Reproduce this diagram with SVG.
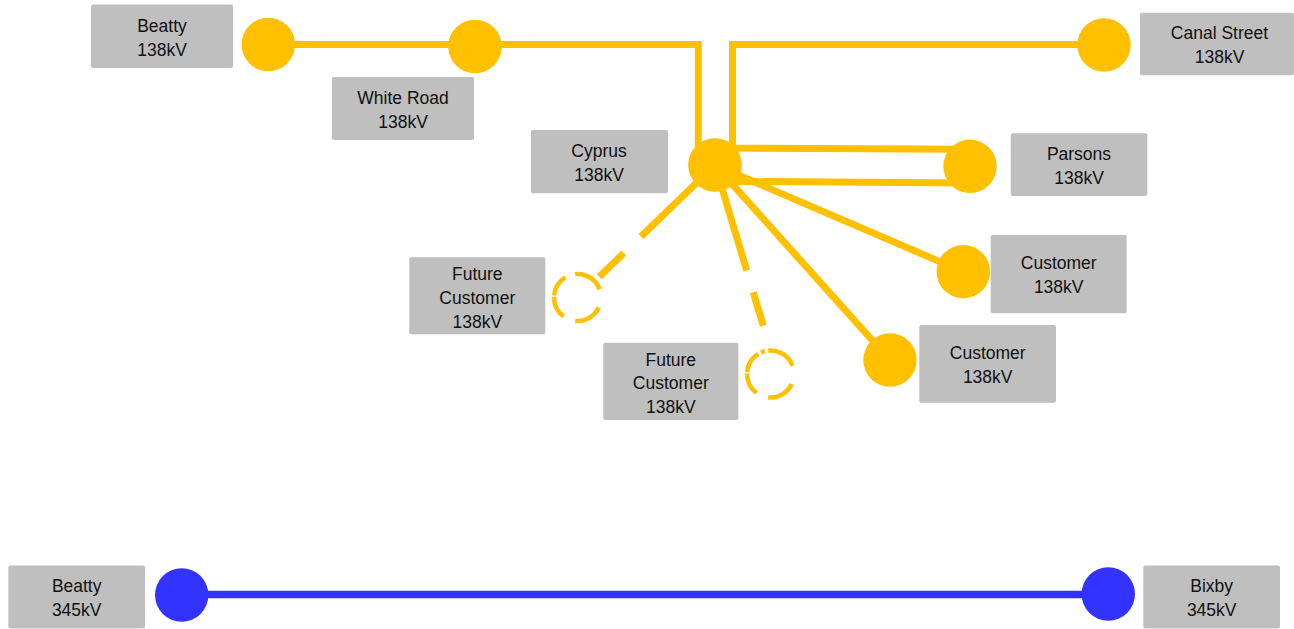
<svg xmlns="http://www.w3.org/2000/svg" width="1294" height="629" viewBox="0 0 1294 629">
<style>
.box{fill:#BFBFBF;}
.lbl{font-family:"Liberation Sans",Arial,sans-serif;font-size:17.5px;fill:#111;text-anchor:middle;}
.y{stroke:#FFC000;stroke-width:7;fill:none;stroke-linecap:butt;}
.b{stroke:#3333FF;stroke-width:7.5;fill:none;}
.yn{fill:#FFC000;}
.bn{fill:#3333FF;}
.fut{fill:none;stroke:#FFC000;stroke-width:4.5;}
</style>
<rect width="1294" height="629" fill="#FFFFFF"/>
<g id="connectors">
<path class="y" d="M268,44.5 H475"/>
<path class="y" d="M475,44.5 H698.3 V165"/>
<path class="y" d="M1104,44.5 H732.5 V148 L970,149.3"/>
<path class="y" d="M715,181.3 L970,183"/>
<path class="y" d="M715,165 L963.3,271.7"/>
<path class="y" d="M715,165 L890,360"/>
<path class="y" d="M599.3,276.7 L715,165" stroke-dasharray="34 24 300"/>
<path class="y" d="M763.3,325.7 L715,165" stroke-dasharray="35 22.6 300"/>
<path class="b" d="M181.7,594.5 H1108.3"/>
</g>
<g id="beatty138">
<rect class="box" x="91" y="4.5" width="142" height="63.5" rx="2"/>
<text class="lbl" x="162" y="31.5">Beatty</text>
<text class="lbl" x="162" y="55.5">138kV</text>
<circle class="yn" cx="268.3" cy="44.5" r="26.8"/>
</g>
<g id="whiteroad">
<rect class="box" x="332" y="77" width="142" height="63" rx="2"/>
<text class="lbl" x="403" y="104">White Road</text>
<text class="lbl" x="403" y="128">138kV</text>
<circle class="yn" cx="475" cy="46.5" r="26.8"/>
</g>
<g id="cyprus">
<rect class="box" x="531" y="130" width="137" height="63.3" rx="2"/>
<text class="lbl" x="599" y="157">Cyprus</text>
<text class="lbl" x="599" y="181">138kV</text>
<circle class="yn" cx="715" cy="165" r="26.8"/>
</g>
<g id="canalstreet">
<rect class="box" x="1140" y="12.7" width="154" height="62.6" rx="2"/>
<text class="lbl" x="1219.5" y="39.3">Canal Street</text>
<text class="lbl" x="1219.5" y="63.3">138kV</text>
<circle class="yn" cx="1104" cy="45" r="26.7"/>
</g>
<g id="parsons">
<rect class="box" x="1010.7" y="133.3" width="136.6" height="62.7" rx="2"/>
<text class="lbl" x="1079" y="160">Parsons</text>
<text class="lbl" x="1079" y="184">138kV</text>
<circle class="yn" cx="970" cy="166.3" r="26.7"/>
</g>
<g id="customer1">
<rect class="box" x="990.7" y="235" width="136" height="78.3" rx="2"/>
<text class="lbl" x="1058.7" y="269">Customer</text>
<text class="lbl" x="1058.7" y="293">138kV</text>
<circle class="yn" cx="963.3" cy="271.7" r="26.7"/>
</g>
<g id="customer2">
<rect class="box" x="919.3" y="325" width="136.7" height="77.7" rx="2"/>
<text class="lbl" x="987.7" y="359">Customer</text>
<text class="lbl" x="987.7" y="383">138kV</text>
<circle class="yn" cx="890" cy="360" r="26.7"/>
</g>
<g id="future1">
<rect class="box" x="409.3" y="257.3" width="136" height="77" rx="2"/>
<text class="lbl" x="477.3" y="280">Future</text>
<text class="lbl" x="477.3" y="304">Customer</text>
<text class="lbl" x="477.3" y="328">138kV</text>
<circle class="fut" cx="577.5" cy="297.5" r="23.5" stroke-dasharray="28.8 12.3 22.6 1.5 21.8 10.3 30.8 20.6" stroke-dashoffset="-10.3"/>
</g>
<g id="future2">
<rect class="box" x="603.3" y="342.7" width="135" height="77.3" rx="2"/>
<text class="lbl" x="670.8" y="365.5">Future</text>
<text class="lbl" x="670.8" y="389">Customer</text>
<text class="lbl" x="670.8" y="412.5">138kV</text>
<circle class="fut" cx="770.5" cy="374" r="23.5" stroke-dasharray="28.8 12.3 22.6 1.5 21.8 3 4 3.3 30.8 20.6" stroke-dashoffset="-10.3"/>
</g>
<g id="beatty345">
<rect class="box" x="8.3" y="565.5" width="136.7" height="63" rx="2"/>
<text class="lbl" x="76.7" y="592">Beatty</text>
<text class="lbl" x="76.7" y="616">345kV</text>
<circle class="bn" cx="181.7" cy="595" r="26.7"/>
</g>
<g id="bixby">
<rect class="box" x="1143.3" y="565.5" width="136.7" height="63" rx="2"/>
<text class="lbl" x="1211.7" y="592">Bixby</text>
<text class="lbl" x="1211.7" y="616">345kV</text>
<circle class="bn" cx="1108.3" cy="594" r="26.7"/>
</g>
</svg>
